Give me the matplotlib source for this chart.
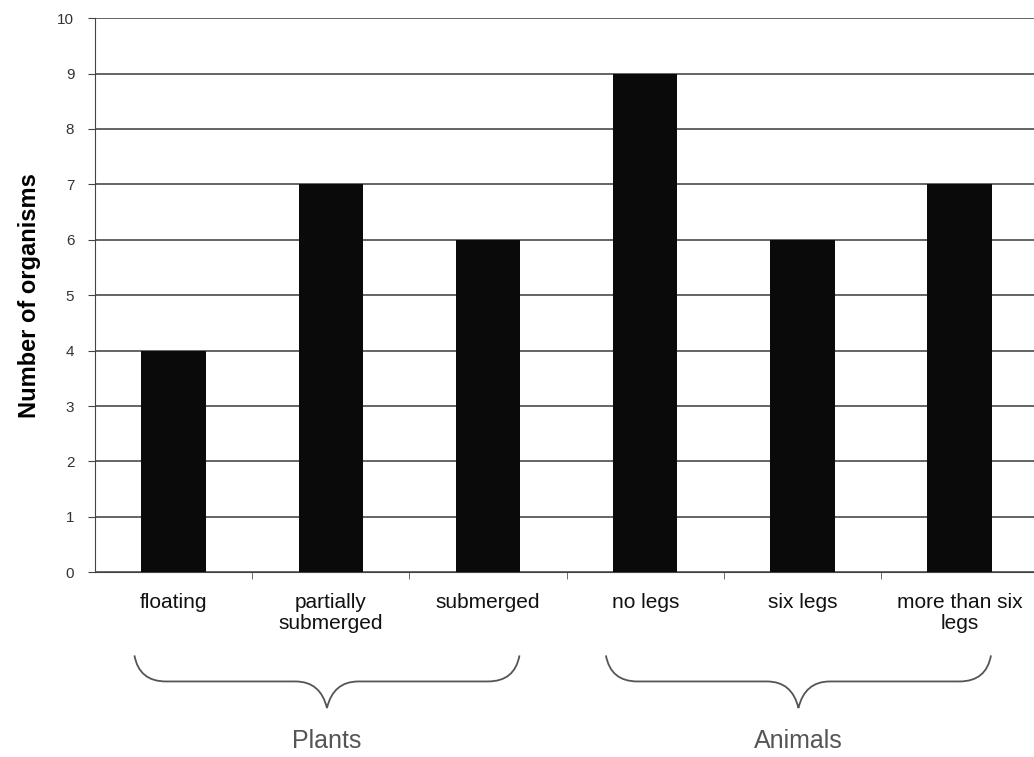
import matplotlib.pyplot as plt
from matplotlib.path import Path
from matplotlib.patches import PathPatch
import matplotlib.transforms as mtransforms

plt.rcParams['font.family'] = ['Liberation Sans', 'DejaVu Sans']

# 数据
categories = ['floating', 'partially\nsubmerged', 'submerged',
              'no legs', 'six legs', 'more than six\nlegs']
counts = [4, 7, 6, 9, 6, 7]
groups = ['Plants', 'Animals']
group_spans = [(0, 2), (3, 5)]

fig = plt.figure(figsize=(10.34, 7.57), dpi=100)
ax = fig.add_axes([0.092, 0.244, 0.912, 0.732])

x = list(range(len(categories)))
ax.bar(x, counts, width=0.41, color='#0a0a0a', zorder=3)

ax.set_xlim(-0.5, 5.5)
ax.set_ylim(0, 10)
ax.set_yticks(range(0, 11))
ax.yaxis.grid(True, color='#3a3a3a', linewidth=1.1, zorder=0)
ax.set_axisbelow(True)

ax.set_xticks(x)
ax.set_xticklabels(categories, fontsize=15, color='#111111', linespacing=1.1)
ax.tick_params(axis='x', length=0, pad=15)
ax.set_xticks([i + 0.5 for i in range(5)], minor=True)
ax.tick_params(axis='x', which='minor', length=5, color='#555555')
ax.tick_params(axis='y', labelsize=11, length=5, color='#444444', labelcolor='#333333', pad=10)

ax.set_ylabel('Number of organisms', fontsize=17, fontweight='bold', labelpad=12)

for s in ['top', 'right']:
    ax.spines[s].set_visible(False)
ax.spines['left'].set_color('#444444')
ax.spines['bottom'].set_color('#444444')

# 大括号
trans = mtransforms.blended_transform_factory(ax.transData, ax.transAxes)
for name, (a, b) in zip(groups, group_spans):
    x0, x1 = a - 0.25, b + 0.2
    xc = (x0 + x1) / 2
    ytop, ymid, ybot = -0.15, -0.197, -0.245
    d = 0.2
    verts = [(x0, ytop), (x0 + 0.03, ymid), (x0 + d, ymid),
             (xc - d, ymid), (xc - 0.04, ymid), (xc, ybot),
             (xc + 0.04, ymid), (xc + d, ymid),
             (x1 - d, ymid), (x1 - 0.03, ymid), (x1, ytop)]
    codes = [Path.MOVETO, Path.CURVE3, Path.CURVE3,
             Path.LINETO, Path.CURVE3, Path.CURVE3,
             Path.CURVE3, Path.CURVE3,
             Path.LINETO, Path.CURVE3, Path.CURVE3]
    ax.add_patch(PathPatch(Path(verts, codes), transform=trans, fill=False,
                           edgecolor='#555555', linewidth=1.3, clip_on=False))
    ax.text(xc, -0.305, name, transform=trans, ha='center', va='center',
            fontsize=18, color='#555555')

fig.savefig('out.png', dpi=100)
